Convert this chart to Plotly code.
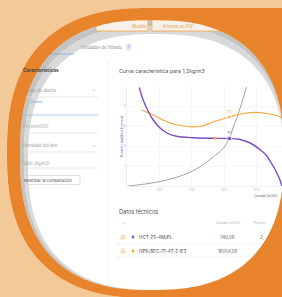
import numpy as np
import plotly.graph_objects as go

W, H = 282, 297

# ---------------- data ----------------
caudal_hct = [138, 150, 166, 181, 202, 223, 253, 305, 366, 416, 449, 480, 512, 532, 543, 558, 572, 578]
presion_hct = [9.85, 8.6, 7.43, 6.6, 5.8, 5.3, 4.97, 4.82, 4.77, 4.75, 4.65, 4.3, 3.6, 3.0, 2.4, 1.6, 0.6, 0.0]

caudal_hpx = [145, 181, 223, 274, 325, 366, 416, 459, 500, 541, 578]
presion_hpx = [7.6, 7.1, 6.43, 6.0, 5.95, 6.4, 6.9, 7.25, 7.37, 7.2, 6.85]

caudal_inst = [104, 171, 223, 274, 325, 366, 397, 416, 428, 439, 449, 457, 469]
presion_inst = [0.0, 0.27, 0.6, 1.1, 1.9, 2.9, 3.77, 4.75, 5.9, 6.8, 7.8, 8.6, 9.9]

punto_caudal = [416, 416]
punto_presion = [4.75, 6.9]
punto_etiqueta = ["P1", "P2"]

marca_caudal = [372]
marca_presion = [4.77]

x_ticks = [200, 300, 400, 500]
y_ticks = [2, 4, 6, 8]

modelos = ["HCT-25-4M/PL", "HPX/SEC-71-4T-2 IE3"]
caudales = ["749,09", "16054,56"]

PURPLE = "#7a4fc6"
ORANGE_L = "#f6a83e"
GRAY_L = "#a3a3a3"
ORANGE = "#e8842c"
PEACH = "#f3c997"
FONT = "Inter"


# ---------------- helpers (geometry in pixels -> paper) ----------------
def P(x, y):
    return x / W, 1 - y / H


def squircle(cx, cy, a, b, n, t0, t1, num=120):
    t = np.linspace(t0, t1, num)
    c, s = np.cos(t), np.sin(t)
    xs = cx + a * np.sign(c) * np.abs(c) ** (2 / n)
    ys = cy + b * np.sign(s) * np.abs(s) ** (2 / n)
    return list(zip(xs, ys))


def sub(points):
    parts = []
    for i, (x, y) in enumerate(points):
        px, py = P(x, y)
        parts.append(("M" if i == 0 else "L") + f"{px:.5f},{py:.5f}")
    return " ".join(parts) + " Z"


# outer orange "D"
d_left = squircle(150, 153, 143, 145, 2.5, 1.5 * np.pi, 0.5 * np.pi, 120)
d_shape = d_left + [(300, 298), (300, 8)]
# gray/white disc boundaries
s1 = squircle(152, 155, 132, 135, 2.5, 0, 2 * np.pi, 200)
sm = squircle(154, 158, 130, 132, 2.5, 0, 2 * np.pi, 200)
s2 = squircle(156, 162, 128, 128, 2.5, 0, 2 * np.pi, 200)
frame = [(-20, -20), (320, -20), (320, 320), (-20, 320)]

shapes = []
# gray band of the screenshot (below content), two tones for a soft edge
shapes.append(dict(type="path", path=sub(s1) + " " + sub(sm), xref="paper", yref="paper",
                   fillcolor="#c3c3c3", line=dict(width=0), layer="below", fillrule="evenodd"))
shapes.append(dict(type="path", path=sub(sm) + " " + sub(s2), xref="paper", yref="paper",
                   fillcolor="#d9d9d9", line=dict(width=0), layer="below", fillrule="evenodd"))


def line(x0, y0, x1, y1, color, w=0.7):
    a, b = P(x0, y0)
    c, d = P(x1, y1)
    shapes.append(dict(type="line", x0=a, y0=b, x1=c, y1=d, xref="paper", yref="paper",
                       line=dict(color=color, width=w), layer="below"))


def rect(x0, y0, x1, y1, lc, fc, w=0.7):
    a, b = P(x0, y0)
    c, d = P(x1, y1)
    shapes.append(dict(type="rect", x0=a, y0=d, x1=c, y1=b, xref="paper", yref="paper",
                       line=dict(color=lc, width=w), fillcolor=fc, layer="below"))


def circ(cx, cy, r, fc):
    a, b = P(cx - r, cy - r)
    c, d = P(cx + r, cy + r)
    shapes.append(dict(type="circle", x0=a, y0=d, x1=c, y1=b, xref="paper", yref="paper",
                       line=dict(width=0), fillcolor=fc, layer="below"))


# tabs
rect(96, 20, 148, 31, ORANGE_L, "#f7f1eb", 0.8)
rect(152, 20, 240, 31, ORANGE_L, "#f7f1eb", 0.8)
# active tab underline + badge
line(44, 54, 74, 54, "#8fb0e6", 0.9)
rect(126, 44, 131, 50, "#dde8fa", "#dde8fa", 0.3)
# panel divider
line(108, 60, 108, 292, "#ececec", 0.7)
# form field underlines
line(22, 97, 98, 97, "#dddddd")
line(22, 115, 98, 115, "#9dbbea", 0.8)
line(22, 133, 98, 133, "#dddddd")
line(22, 152, 98, 152, "#dddddd")
line(22, 168, 98, 168, "#dddddd")
# button
rect(21, 175.5, 80, 184.5, "#c9c9c9", "rgba(0,0,0,0)", 0.6)
# table
line(116, 244, 285, 244, "#ebebeb")
line(116, 257, 285, 257, "#ebebeb")
circ(123, 237, 3, "#fde6cc")
circ(123, 251, 3, "#fde6cc")
circ(133, 237, 1.4, PURPLE)
circ(133, 251, 1.4, ORANGE_L)

# masks drawn above everything (peach outside, orange ring)
shapes.append(dict(type="path", path=sub(frame) + " " + sub(d_shape), xref="paper", yref="paper",
                   fillcolor=PEACH, line=dict(width=0), layer="above", fillrule="evenodd"))
shapes.append(dict(type="path", path=sub(d_shape) + " " + sub(s1), xref="paper", yref="paper",
                   fillcolor=ORANGE, line=dict(width=0), layer="above", fillrule="evenodd"))

annotations = []


def txt(x, y, s, size, color, anchor="left", angle=0, bold=False):
    px, py = P(x, y)
    annotations.append(dict(x=px, y=py, xref="paper", yref="paper", text=(f"<b>{s}</b>" if bold else s),
                            showarrow=False, xanchor=anchor, yanchor="middle", textangle=angle,
                            font=dict(size=size, color=color, family=FONT), borderpad=0))


txt(139, 26, "Modelo", 4.2, "#e59a45", "center")
txt(162, 26, "Informe en PDF", 4.2, "#e59a45")
txt(80, 47, "Unidades de filtrado", 4.3, "#8a8a8a")
txt(128.5, 47, "1", 3.5, "#4f7fd3", "center")
txt(60, 70, "Características", 4.8, "#444444", "right", bold=True)
txt(58, 90, "Tipo de diseño", 4.2, "#9a9a9a", "right")
txt(94, 90, "⌄", 4.5, "#9a9a9a", "center")
txt(30, 101, "Diseño", 3.6, "#6f98dc")
txt(22, 127, "Pe (mmH2O)", 4.2, "#a5a5a5")
txt(22, 145, "Densidad del aire", 4.2, "#9a9a9a")
txt(94, 145, "⌄", 4.5, "#9a9a9a", "center")
txt(22, 163, "Valor (kg/m3)", 4.2, "#a5a5a5")
txt(23, 180, "Resetear la comparación", 4.1, "#555555")

txt(118, 71, "Curva característica para 1,2kg/m3", 5.2, "#505050")
txt(122, 137, "Presión estática (mmca)", 3.6, PURPLE, "center", angle=-90)
txt(279, 196, "Caudal (m3/h)", 3.5, "#606060", "right")

txt(118, 211, "Datos técnicos", 5.6, "#505050")
txt(123, 223, "✓", 5, ORANGE_L, "center")
txt(123, 237, "✓", 4.2, ORANGE_L, "center")
txt(123, 251, "✓", 4.2, ORANGE_L, "center")
txt(228, 223, "Caudal (m3/h)", 3.6, "#b0b0b0", "center")
txt(252, 223, "Presión", 3.6, "#b0b0b0")
for i, (m, c) in enumerate(zip(modelos, caudales)):
    yy = 237 + 14 * i
    txt(138, yy, m, 4.6, "#3f3f3f")
    txt(228, yy, c, 4.4, "#555555", "center")
txt(259, 237, "2,", 4.4, "#555555")

fig = go.Figure()
fig.add_trace(go.Scatter(x=caudal_inst, y=presion_inst, mode="lines", line=dict(color=GRAY_L, width=1, shape="spline"),
                         hoverinfo="skip", showlegend=False))
fig.add_trace(go.Scatter(x=caudal_hpx, y=presion_hpx, mode="lines", line=dict(color=ORANGE_L, width=1.2, shape="spline"),
                         hoverinfo="skip", showlegend=False))
fig.add_trace(go.Scatter(x=caudal_hct, y=presion_hct, mode="lines", line=dict(color=PURPLE, width=1.4, shape="spline"),
                         hoverinfo="skip", showlegend=False))
fig.add_trace(go.Scatter(x=marca_caudal, y=marca_presion, mode="markers",
                         marker=dict(color=ORANGE_L, size=3), hoverinfo="skip", showlegend=False))
fig.add_trace(go.Scatter(x=punto_caudal, y=punto_presion, mode="markers+text", text=punto_etiqueta,
                         textposition="top center",
                         textfont=dict(size=3.6, color=[PURPLE, ORANGE_L], family=FONT),
                         marker=dict(color=[PURPLE, ORANGE_L], size=[4.5, 3.5], symbol="square"),
                         hoverinfo="skip", showlegend=False))

fig.update_layout(
    width=W, height=H, autosize=False,
    margin=dict(l=0, r=0, t=0, b=0, pad=0),
    paper_bgcolor="white", plot_bgcolor="rgba(0,0,0,0)",
    font=dict(family=FONT),
    xaxis=dict(domain=[127 / W, 1], range=[100, 578.4], tickvals=x_ticks,
               ticktext=[str(v) for v in x_ticks], tickfont=dict(size=3.4, color="#b5b5b5"),
               showgrid=True, gridcolor="#f0f0f0", gridwidth=0.6, zeroline=False,
               showline=True, linecolor="#e2e2e2", linewidth=0.6, ticks=""),
    yaxis=dict(domain=[1 - 186 / H, 1 - 86 / H], range=[0, 10], tickvals=y_ticks,
               ticktext=[str(v) for v in y_ticks], tickfont=dict(size=3.4, color="#b5b5b5"),
               showgrid=True, gridcolor="#f0f0f0", gridwidth=0.6, zeroline=False,
               showline=True, linecolor="#e2e2e2", linewidth=0.6, ticks=""),
    shapes=shapes,
    annotations=annotations,
)

fig.write_html("out.html", config={"displayModeBar": False, "staticPlot": True},
               post_script="document.body.style.margin='0';document.body.style.overflow='hidden';")
